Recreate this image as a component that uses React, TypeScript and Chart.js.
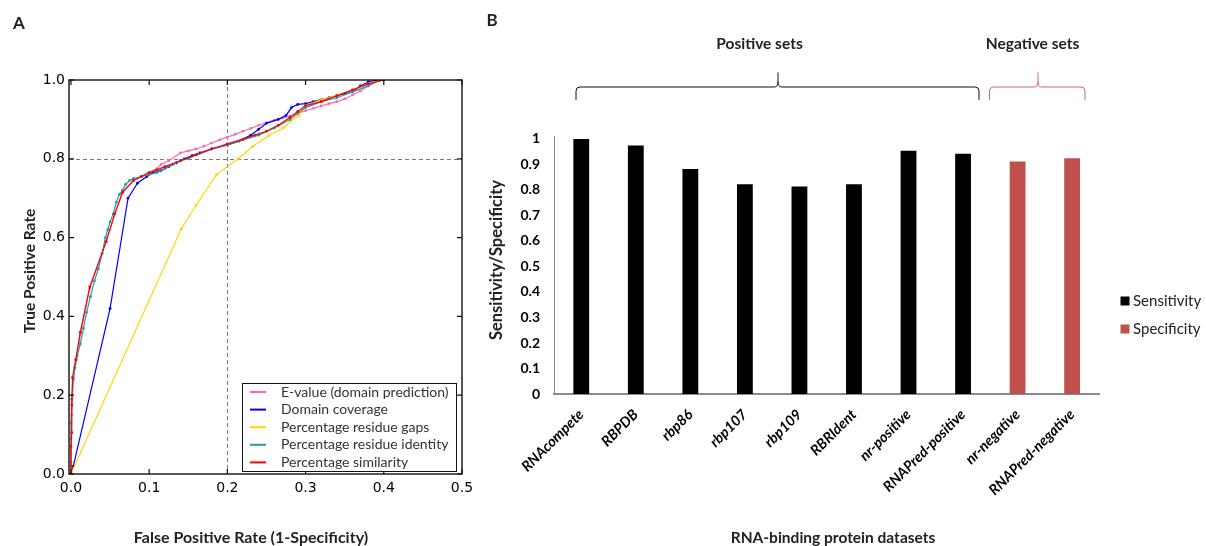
import React, { useEffect, useRef } from "react";
import { Chart, registerables } from "chart.js";

Chart.register(...registerables);

// ---------- Panel A: ROC curves ----------
const xTickValuesA = [0, 0.1, 0.2, 0.3, 0.4, 0.5];
const yTickValuesA = [0, 0.2, 0.4, 0.6, 0.8, 1.0];

const evLabel = "E-value (domain prediction)";
const evFpr = [0, 0, 0.001, 0.003, 0.007, 0.012, 0.024, 0.045, 0.056, 0.066, 0.08, 0.1, 0.11, 0.115, 0.125, 0.14, 0.15, 0.16, 0.17, 0.18, 0.19, 0.2, 0.21, 0.22, 0.23, 0.24, 0.25, 0.26, 0.27, 0.28, 0.29, 0.3, 0.31, 0.32, 0.33, 0.34, 0.35, 0.36, 0.37, 0.38, 0.39];
const evTpr = [0, 0.05, 0.15, 0.24, 0.29, 0.355, 0.47, 0.59, 0.66, 0.715, 0.745, 0.765, 0.775, 0.785, 0.795, 0.815, 0.82, 0.825, 0.832, 0.84, 0.848, 0.855, 0.862, 0.87, 0.877, 0.885, 0.892, 0.898, 0.903, 0.908, 0.915, 0.922, 0.928, 0.934, 0.94, 0.945, 0.952, 0.962, 0.972, 0.985, 1.0];

const dcLabel = "Domain coverage";
const dcFpr = [0, 0.003, 0.05, 0.073, 0.085, 0.097, 0.105, 0.115, 0.125, 0.135, 0.145, 0.155, 0.165, 0.18, 0.2, 0.215, 0.23, 0.24, 0.25, 0.265, 0.275, 0.282, 0.29, 0.3, 0.31, 0.32, 0.33, 0.34, 0.35, 0.36, 0.37, 0.38, 0.39];
const dcTpr = [0, 0.02, 0.42, 0.7, 0.738, 0.755, 0.765, 0.77, 0.78, 0.79, 0.8, 0.808, 0.815, 0.825, 0.835, 0.845, 0.86, 0.875, 0.89, 0.9, 0.91, 0.93, 0.938, 0.94, 0.945, 0.95, 0.955, 0.96, 0.965, 0.97, 0.985, 0.995, 1.0];

const gapLabel = "Percentage residue gaps";
const gapFpr = [0, 0.141, 0.16, 0.186, 0.214, 0.232, 0.253, 0.272, 0.281, 0.291, 0.3, 0.32, 0.34, 0.36, 0.38, 0.395];
const gapTpr = [0, 0.622, 0.682, 0.76, 0.8, 0.831, 0.859, 0.879, 0.896, 0.909, 0.935, 0.95, 0.962, 0.975, 0.99, 1.0];

const idLabel = "Percentage residue identity";
const idFpr = [0, 0, 0, 0, 0.001, 0.003, 0.005, 0.008, 0.012, 0.016, 0.02, 0.025, 0.03, 0.035, 0.04, 0.044, 0.047, 0.05, 0.054, 0.058, 0.062, 0.066, 0.07, 0.075, 0.08, 0.09, 0.1, 0.11, 0.12, 0.13, 0.14, 0.15, 0.16, 0.18, 0.2, 0.22, 0.24, 0.26, 0.28, 0.3, 0.32, 0.34, 0.36, 0.38, 0.395];
const idTpr = [0, 0.03, 0.09, 0.13, 0.19, 0.24, 0.27, 0.3, 0.33, 0.37, 0.41, 0.45, 0.49, 0.52, 0.56, 0.6, 0.62, 0.64, 0.66, 0.69, 0.71, 0.72, 0.735, 0.745, 0.75, 0.755, 0.76, 0.765, 0.775, 0.785, 0.795, 0.8, 0.81, 0.825, 0.835, 0.848, 0.86, 0.878, 0.9, 0.93, 0.945, 0.955, 0.97, 0.985, 1.0];

const simLabel = "Percentage similarity";
const simFpr = [0, 0, 0, 0.001, 0.001, 0.002, 0.006, 0.012, 0.024, 0.045, 0.056, 0.066, 0.08, 0.09, 0.1, 0.11, 0.12, 0.14, 0.16, 0.18, 0.2, 0.22, 0.235, 0.25, 0.265, 0.28, 0.29, 0.3, 0.32, 0.34, 0.36, 0.38, 0.4];
const simTpr = [0, 0.02, 0.07, 0.105, 0.175, 0.245, 0.29, 0.36, 0.475, 0.59, 0.66, 0.715, 0.745, 0.755, 0.765, 0.772, 0.78, 0.795, 0.81, 0.825, 0.838, 0.85, 0.86, 0.87, 0.885, 0.905, 0.92, 0.935, 0.945, 0.96, 0.975, 0.99, 1.0];

const rocSeries = [
  { label: evLabel, color: "#ff69b4", fpr: evFpr, tpr: evTpr },
  { label: dcLabel, color: "#0000ff", fpr: dcFpr, tpr: dcTpr },
  { label: gapLabel, color: "#ffd700", fpr: gapFpr, tpr: gapTpr },
  { label: idLabel, color: "#20a0a0", fpr: idFpr, tpr: idTpr },
  { label: simLabel, color: "#ff0000", fpr: simFpr, tpr: simTpr },
];

// ---------- Panel B: Sensitivity / Specificity ----------
const datasetNames = ["RNAcompete", "RBPDB", "rbp86", "rbp107", "rbp109", "RBRIdent", "nr-positive", "RNAPred-positive", "nr-negative", "RNAPred-negative"];
const sensitivityValues = [1.0, 0.974, 0.882, 0.822, 0.814, 0.822, 0.954, 0.942, null, null];
const specificityValues = [null, null, null, null, null, null, null, null, 0.912, 0.924];
const yTickValuesB = [0, 0.1, 0.2, 0.3, 0.4, 0.5, 0.6, 0.7, 0.8, 0.9, 1];
const yTickLabelsB = ["0", "0.1", "0.2", "0.3", "0.4", "0.5", "0.6", "0.7", "0.8", "0.9", "1"];

const TEXT = "#222222";
const SANS = "Lato";
const OFF_B = 480; // left of the panel B canvas on the page

const panelAPlugin = {
  id: "panelA",
  beforeDatasetsDraw(chart: any) {
    const { ctx, chartArea: a, scales } = chart;
    const x = scales.x, y = scales.y;
    ctx.save();
    ctx.strokeStyle = "#777777";
    ctx.lineWidth = 1;
    ctx.setLineDash([4, 3]);
    const px = Math.round(x.getPixelForValue(0.2)) + 0.5;
    const py = Math.round(y.getPixelForValue(0.8)) + 0.5;
    ctx.beginPath();
    ctx.moveTo(px, a.top); ctx.lineTo(px, a.bottom);
    ctx.moveTo(a.left, py); ctx.lineTo(a.right, py);
    ctx.stroke();
    ctx.restore();
  },
  afterDatasetsDraw(chart: any) {
    const { ctx, chartArea: a, scales } = chart;
    const x = scales.x, y = scales.y;
    ctx.save();
    ctx.strokeStyle = "#111111";
    ctx.lineWidth = 1.4;
    ctx.strokeRect(a.left, a.top, a.right - a.left, a.bottom - a.top);
    ctx.lineWidth = 1.2;
    ctx.beginPath();
    xTickValuesA.forEach((v) => {
      const px = x.getPixelForValue(v);
      ctx.moveTo(px, a.bottom); ctx.lineTo(px, a.bottom - 5);
      ctx.moveTo(px, a.top); ctx.lineTo(px, a.top + 5);
    });
    yTickValuesA.forEach((v) => {
      const py = y.getPixelForValue(v);
      ctx.moveTo(a.left, py); ctx.lineTo(a.left + 5, py);
      ctx.moveTo(a.right, py); ctx.lineTo(a.right - 5, py);
    });
    ctx.stroke();

    // legend
    const bx = 242, by = 383, bw = 214, bh = 88;
    ctx.fillStyle = "#ffffff";
    ctx.fillRect(bx, by, bw, bh);
    ctx.strokeStyle = "#111111";
    ctx.lineWidth = 1;
    ctx.strokeRect(bx + 0.5, by + 0.5, bw, bh);
    ctx.font = `14px ${SANS}`;
    ctx.textBaseline = "middle";
    ctx.textAlign = "left";
    rocSeries.forEach((s, i) => {
      const ry = by + 9 + i * 17.6;
      ctx.strokeStyle = s.color;
      ctx.lineWidth = 2;
      ctx.beginPath();
      ctx.moveTo(250, ry); ctx.lineTo(266, ry);
      ctx.stroke();
      ctx.fillStyle = "#333333";
      ctx.fillText(s.label, 281, ry);
    });
    ctx.restore();
  },
  afterDraw(chart: any) {
    const { ctx } = chart;
    ctx.save();
    ctx.fillStyle = TEXT;
    ctx.textBaseline = "middle";
    ctx.textAlign = "center";
    ctx.font = `bold 17px ${SANS}`;
    ctx.fillText("A", 19, 24);
    ctx.font = `bold 16px ${SANS}`;
    ctx.fillText("False Positive Rate (1-Specificity)", 251, 538);
    ctx.translate(30, 271);
    ctx.rotate(-Math.PI / 2);
    ctx.font = `bold 15.5px ${SANS}`;
    ctx.fillText("True Positive Rate", 0, 0);
    ctx.restore();
  },
};

const drawBrace = (ctx: any, x0: number, x1: number, xm: number, color: string) => {
  const yTop = 72.5, yMid = 87, yFoot = 100;
  ctx.strokeStyle = color;
  ctx.lineWidth = 1;
  ctx.beginPath();
  ctx.moveTo(x0, yFoot);
  ctx.lineTo(x0, yMid + 4);
  ctx.quadraticCurveTo(x0, yMid, x0 + 4, yMid);
  ctx.lineTo(xm - 4, yMid);
  ctx.quadraticCurveTo(xm, yMid, xm, yMid - 5);
  ctx.lineTo(xm, yTop);
  ctx.moveTo(xm, yMid - 5);
  ctx.quadraticCurveTo(xm, yMid, xm + 4, yMid);
  ctx.lineTo(x1 - 4, yMid);
  ctx.quadraticCurveTo(x1, yMid, x1, yMid + 4);
  ctx.lineTo(x1, yFoot);
  ctx.stroke();
};

const panelBPlugin = {
  id: "panelB",
  afterDraw(chart: any) {
    const { ctx } = chart;
    const off = OFF_B;
    ctx.save();
    ctx.fillStyle = TEXT;
    ctx.textBaseline = "middle";
    ctx.textAlign = "center";
    ctx.font = `bold 17px ${SANS}`;
    ctx.fillText("B", 492 - off, 21);
    ctx.font = `bold 15.5px ${SANS}`;
    ctx.fillText("Positive sets", 759.5 - off, 44);
    ctx.fillText("Negative sets", 1032.5 - off, 44);
    ctx.fillText("RNA-binding protein datasets", 833 - off, 538);
    drawBrace(ctx, 576 - off, 979 - off, 778 - off, "#111111");
    drawBrace(ctx, 989.5 - off, 1085 - off, 1038 - off, "#cc6a68");
    ctx.save();
    ctx.translate(497 - off, 260);
    ctx.rotate(-Math.PI / 2);
    ctx.fillStyle = TEXT;
    ctx.font = `bold 16.5px ${SANS}`;
    ctx.fillText("Sensitivity/Specificity", 0, 0);
    ctx.restore();

    // legend
    ctx.textAlign = "left";
    ctx.font = `15px ${SANS}`;
    chart.data.datasets.forEach((ds: any, i: number) => {
      const cy = 301 + i * 28;
      ctx.fillStyle = ds.backgroundColor;
      ctx.fillRect(1120.5 - off, cy - 4.5, 9, 9);
      ctx.fillStyle = TEXT;
      ctx.fillText(ds.label, 1133 - off, cy);
    });
    ctx.restore();
  },
};

export default function App() {
  const refA = useRef<HTMLCanvasElement>(null);
  const refB = useRef<HTMLCanvasElement>(null);

  useEffect(() => {
    const chartA = new Chart(refA.current as HTMLCanvasElement, {
      type: "scatter",
      data: {
        datasets: rocSeries.map((s, i) => ({
          label: s.label,
          data: s.fpr.map((fx, k) => ({ x: fx, y: s.tpr[k] })),
          borderColor: s.color,
          backgroundColor: s.color,
          borderWidth: 1.2,
          pointRadius: 1.4,
          pointBorderWidth: 0,
          pointHoverRadius: 0,
          showLine: true,
          fill: false,
          tension: 0,
          order: rocSeries.length - 1 - i,
        })),
      } as any,
      options: {
        responsive: false,
        animation: false,
        devicePixelRatio: 1,
        events: [],
        layout: { padding: { top: 80, right: 18, left: 0, bottom: 0 } },
        plugins: { legend: { display: false }, tooltip: { enabled: false } },
        scales: {
          x: {
            type: "linear",
            min: -0.0025,
            max: 0.5,
            afterFit: (s: any) => { s.height = 72; },
            afterBuildTicks: (s: any) => { s.ticks = xTickValuesA.map((v) => ({ value: v })); },
            grid: { display: false, drawTicks: false },
            border: { display: false },
            ticks: {
              font: { family: "DejaVu Sans", size: 14 },
              color: "#000",
              padding: 6,
              maxRotation: 0,
              autoSkip: false,
              callback: (v: any) => Number(v).toFixed(1),
            },
          },
          y: {
            type: "linear",
            min: 0,
            max: 1,
            afterFit: (s: any) => { s.width = 69; },
            afterBuildTicks: (s: any) => { s.ticks = yTickValuesA.map((v) => ({ value: v })); },
            grid: { display: false, drawTicks: false },
            border: { display: false },
            ticks: {
              font: { family: "DejaVu Sans", size: 14 },
              color: "#000",
              padding: 4,
              autoSkip: false,
              callback: (v: any) => Number(v).toFixed(1),
            },
          },
        },
      } as any,
      plugins: [panelAPlugin],
    });

    const chartB = new Chart(refB.current as HTMLCanvasElement, {
      type: "bar",
      data: {
        labels: datasetNames,
        datasets: [
          { label: "Sensitivity", data: sensitivityValues, backgroundColor: "#000000", borderWidth: 0 },
          { label: "Specificity", data: specificityValues, backgroundColor: "#c0504d", borderWidth: 0 },
        ],
      } as any,
      options: {
        responsive: false,
        animation: false,
        devicePixelRatio: 1,
        events: [],
        layout: { padding: { top: 136.4, right: 106.6, left: 0, bottom: 0 } },
        datasets: { bar: { categoryPercentage: 1, barPercentage: 0.29 } },
        plugins: { legend: { display: false }, tooltip: { enabled: false } },
        scales: {
          x: {
            stacked: true,
            afterFit: (s: any) => { s.height = 152; },
            grid: { display: false, drawTicks: false },
            border: { display: true, color: "#8a8a8a", width: 2 },
            ticks: {
              font: { family: SANS, size: 14.5, weight: "bold", style: "italic" },
              color: "#000",
              padding: 12,
              minRotation: 45,
              maxRotation: 45,
              autoSkip: false,
            },
          },
          y: {
            min: 0,
            max: 1.01,
            afterFit: (s: any) => { s.width = 74; },
            afterBuildTicks: (s: any) => { s.ticks = yTickValuesB.map((v) => ({ value: v })); },
            grid: { display: false, drawTicks: false },
            border: { display: true, color: "#8a8a8a", width: 1 },
            ticks: {
              font: { family: SANS, size: 14, weight: "bold" },
              color: "#000",
              padding: 14,
              autoSkip: false,
              callback: (v: any, i: number) => yTickLabelsB[i],
            },
          },
        },
      } as any,
      plugins: [panelBPlugin],
    });

    return () => {
      chartA.destroy();
      chartB.destroy();
    };
  }, []);

  return (
    <div style={{ position: "absolute", left: 0, top: 0, width: 1206, height: 546, background: "#ffffff", overflow: "hidden" }}>
      <canvas ref={refA} width={480} height={546} style={{ position: "absolute", left: 0, top: 0, width: 480, height: 546 }} />
      <canvas ref={refB} width={726} height={546} style={{ position: "absolute", left: OFF_B, top: 0, width: 726, height: 546 }} />
    </div>
  );
}
